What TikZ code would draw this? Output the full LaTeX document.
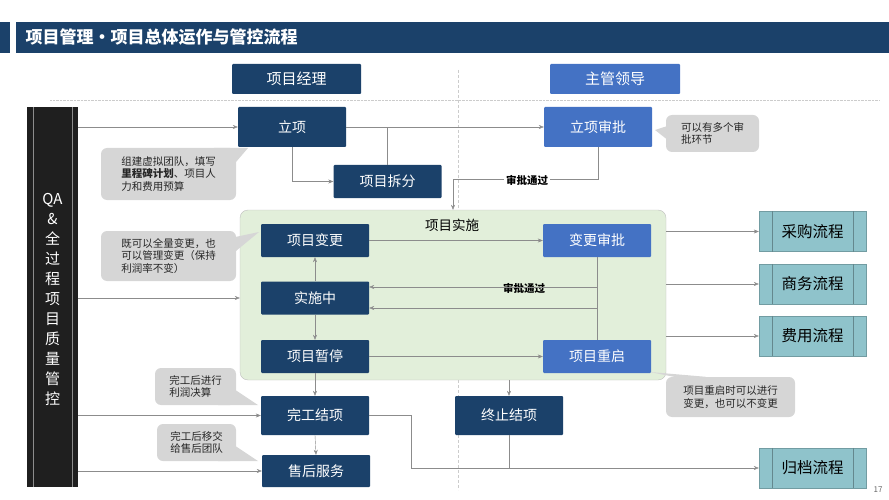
\documentclass[tikz,border=0pt]{standalone}
\usepackage{fontspec}
\setmainfont{Noto Sans CJK SC}
\usetikzlibrary{arrows.meta}
\definecolor{pmblue}{HTML}{1B416A}
\definecolor{ldblue}{HTML}{4472C4}
\definecolor{implgreen}{HTML}{E2EFDA}
\definecolor{flowteal}{HTML}{8FC3CB}
\definecolor{notegray}{HTML}{D6D6D6}
\definecolor{linkgray}{HTML}{8C8C8C}
\tikzset{
  pmbox/.style={fill=pmblue, text=white, minimum width=108pt, minimum height=33pt, inner sep=0pt, rounded corners=1pt, font=\fontsize{14}{16}\selectfont},
  ldbox/.style={pmbox, fill=ldblue},
  flowbox/.style={fill=flowteal, draw=flowteal!80!black, minimum width=107pt, minimum height=40pt, inner sep=0pt, font=\fontsize{15.5}{17}\selectfont},
  note/.style={fill=notegray, rounded corners=6pt, align=left, inner sep=5pt, font=\fontsize{10.5}{12.5}\selectfont, text=black!85},
  link/.style={draw=linkgray, -{Stealth[length=5pt,width=4pt]}},
  plain/.style={draw=linkgray},
  passlabel/.style={fill=white, inner sep=2pt, font=\bfseries\fontsize{10.5}{12}\selectfont}
}
\begin{document}
\begin{tikzpicture}[x=1pt,y=-1pt]
\useasboundingbox (0,0) rectangle (889,500);
% title
\fill[pmblue] (0,22) rectangle (10,53);
\fill[pmblue] (16,22) rectangle (889,53);
\node[anchor=west, text=white, font=\bfseries\fontsize{17}{19}\selectfont] (title) at (22,37.5) {项目管理·项目总体运作与管控流程};
% roles
\node[pmbox, minimum width=129pt, minimum height=30pt, font=\fontsize{15}{17}\selectfont] (pm) at (296.5,79) {项目经理};
\node[ldbox, minimum width=130pt, minimum height=30pt, font=\fontsize{15}{17}\selectfont] (lead) at (615,79) {主管领导};
\draw[black!20, densely dotted] (50,100) -- (880,100);
\draw[black!20, densely dashed] (458,70) -- (458,490);
% QA bar
\node[fill=black!88, minimum width=51pt, minimum height=380pt, inner sep=0pt] (qabar) at (52.5,297) {};
\draw[black!45] (33,107) -- (33,487) (72,107) -- (72,487);
\node[text=white, align=center, font=\fontsize{15}{20}\selectfont] (qa) at (52.5,299)
  {QA\\\&\\全\\过\\程\\项\\目\\质\\量\\管\\控};
% implementation frame
\node[fill=implgreen, draw=black!25, rounded corners=8pt, minimum width=426pt, minimum height=170pt, inner sep=0pt] (impl) at (453,295) {};
\node[font=\fontsize{13.5}{15}\selectfont] (impltitle) at (452,225) {项目实施};
% boxes
\node[pmbox, minimum height=40pt] (setup) at (292,127) {立项};
\node[pmbox] (split) at (387.5,181.5) {项目拆分};
\node[ldbox, minimum height=40pt] (setupok) at (598,127) {立项审批};
\node[pmbox] (change) at (315,240.5) {项目变更};
\node[ldbox] (changeok) at (597,240.5) {变更审批};
\node[pmbox] (running) at (315,298) {实施中};
\node[pmbox] (pause) at (315,356.5) {项目暂停};
\node[ldbox] (restart) at (597,356.5) {项目重启};
\node[pmbox, minimum height=39pt] (finish) at (315,415.5) {完工结项};
\node[pmbox, minimum height=32pt] (service) at (316,471) {售后服务};
\node[pmbox, minimum height=39pt] (stop) at (509,415.5) {终止结项};
\foreach \name/\txt/\y in {buy/采购流程/231.5, biz/商务流程/284, cost/费用流程/336, archive/归档流程/468}{
  \node[flowbox] (\name) at (812.5,\y) {\txt};
  \draw[flowteal!70!black] ([xshift=13pt]\name.north west) -- ([xshift=13pt]\name.south west)
    ([xshift=-13pt]\name.north east) -- ([xshift=-13pt]\name.south east);
}
% notes
\node[note, minimum width=135pt, minimum height=52pt] (teamnote) at (168.5,174) {组建虚拟团队，填写\\\textbf{里程碑计划}、项目人\\力和费用预算};
\fill[notegray] ([xshift=-22pt]teamnote.north east) -- (248,148) -- ([yshift=-14pt]teamnote.north east) -- cycle;
\node[note, minimum width=93pt, minimum height=37pt] (stepnote) at (712.5,133.5) {可以有多个审\\批环节};
\fill[notegray] ([yshift=7pt]stepnote.west) -- (655,130) -- ([yshift=-5pt]stepnote.west) -- cycle;
\node[note, minimum width=135pt, minimum height=50pt] (changenote) at (168.5,256) {既可以全量变更，也\\可以管理变更（保持\\利润率不变）};
\fill[notegray] ([yshift=-6pt]changenote.north east) -- (259,232) -- ([yshift=-20pt]changenote.north east) -- cycle;
\node[note, minimum width=81pt, minimum height=37pt] (profitnote) at (195.5,386.5) {完工后进行\\利润决算};
\fill[notegray] ([yshift=-4pt]profitnote.east) -- (258,405) -- ([xshift=-18pt]profitnote.south east) -- cycle;
\node[note, minimum width=79pt, minimum height=37pt] (handnote) at (196.5,442.5) {完工后移交\\给售后团队};
\fill[notegray] ([yshift=-4pt]handnote.east) -- (258,461) -- ([xshift=-18pt]handnote.south east) -- cycle;
\node[note, minimum width=129pt, minimum height=40pt] (restartnote) at (730.5,397) {项目重启时可以进行\\变更，也可以不变更};
\fill[notegray] ([xshift=8pt]restartnote.north west) -- (650,372) -- ([xshift=40pt]restartnote.north west) -- cycle;
% connectors
\draw[link] (qabar.east |- setup.west) -- (setup.west);
\draw[link] (setup.east) -- (setupok.west);
\draw[plain] (split.north) -- (split.north |- setup.east);
\draw[link] (setup.south) |- (split.west);
\coordinate (passA) at (453,179);
\draw[plain] (setupok.south) |- (passA);
\draw[link] (passA) -- (impl.north -| passA);
\node[passlabel] (passAlabel) at (527,180) {审批通过};
\draw[link] (qabar.east |- running.west) -- (impl.west |- running.west);
\draw[link] (change.east) -- (changeok.west);
\draw[link] (changeok.south) |- ([yshift=-10pt]running.east);
\node[passlabel, fill=implgreen] (passBlabel) at (524,288) {审批通过};
\draw[link] (restart.north) |- ([yshift=11pt]running.east);
\draw[link] (running.north) -- (change.south);
\draw[link] (running.south) -- (pause.north);
\draw[link] (pause.east) -- (restart.west);
\draw[link] (pause.south) -- (finish.north);
\draw[link] (impl.south -| stop.north) -- (stop.north);
\draw[link] (impl.east |- buy.west) -- (buy.west);
\draw[link] (impl.east |- biz.west) -- (biz.west);
\draw[link] (impl.east |- cost.west) -- (cost.west);
\draw[link] (qabar.east |- finish.west) -- (finish.west);
\draw[link] (qabar.east |- service.west) -- (service.west);
\draw[link] (finish.south) -- (service.north);
\coordinate (finturn) at (411,415.5);
\draw[link] (finish.east) -- (finturn) |- (archive.west);
\draw[plain] (stop.south) -- (stop.south |- archive.west);
\node[text=black!60, font=\fontsize{8}{9}\selectfont] (pageno) at (878,490) {17};
\end{tikzpicture}
\end{document}
